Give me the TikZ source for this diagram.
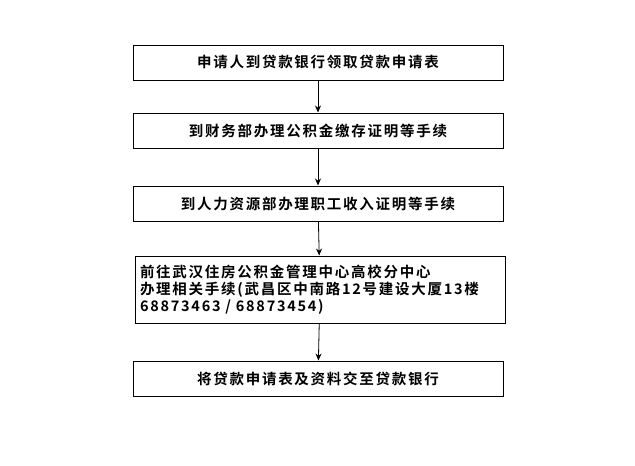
\documentclass[tikz,border=0pt]{standalone}
\usepackage{fontspec}
\setmainfont{Noto Sans CJK SC}[BoldFont={Noto Sans CJK SC Bold},BoldFeatures={LetterSpace=12}]
\usetikzlibrary{arrows.meta}
\begin{document}
\begin{tikzpicture}[x=1pt,y=-1pt,
  stepbox/.style={draw,line width=1pt,minimum width=370pt,inner sep=0pt,font=\bfseries\fontsize{14.5}{17}\selectfont},
  arr/.style={-{Stealth[length=7pt,width=6pt]},line width=0.8pt}]
\useasboundingbox (0,0) rectangle (635,466);
\node[stepbox,minimum height=35pt] (a) at (318,62.5) {申请人到贷款银行领取贷款申请表};
\node[stepbox,minimum height=35pt] (b) at (318,130.5) {到财务部办理公积金缴存证明等手续};
\node[stepbox,minimum height=35pt] (c) at (318,203.5) {到人力资源部办理职工收入证明等手续};
\node[stepbox,minimum height=67pt,text width=360pt,align=left] (d) at (320,289.5) {前往武汉住房公积金管理中心高校分中心\\办理相关手续(武昌区中南路12号建设大厦13楼\\68873463 / 68873454)};
\node[stepbox,minimum height=35pt] (e) at (318,378.5) {将贷款申请表及资料交至贷款银行};
\draw[arr] (a) -- (b);
\draw[arr] (b) -- (c);
\draw[arr] (c) -- (d);
\draw[arr] (d) -- (e);
\end{tikzpicture}
\end{document}
